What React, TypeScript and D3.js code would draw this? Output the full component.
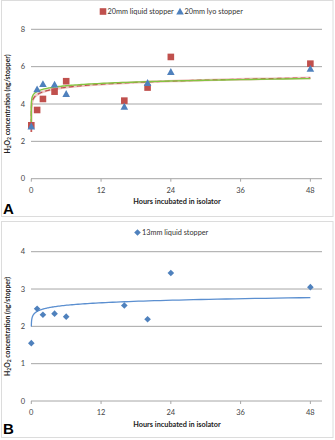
import React from "react";
import * as d3 from "d3";

const hours = [0, 1, 2, 4, 6, 16, 20, 24, 48];
const liquid20 = [2.86, 3.68, 4.27, 4.66, 5.22, 4.18, 4.88, 6.52, 6.16];
const lyo20 = [2.8, 4.79, 5.07, 5.04, 4.54, 3.86, 5.13, 5.72, 5.89];
const liquid13 = [1.55, 2.47, 2.31, 2.34, 2.26, 2.56, 2.19, 3.43, 3.05];

// power trendline coefficients [a, b, xStart]  y = a * x^b
const trendLiquid20 = [4.5, 0.047, 3.7e-6];
const trendLyo20 = [4.67, 0.0356, 1.5e-6];
const trendLiquid13 = [2.4, 0.037, 0.007];

const xTicks = [0, 12, 24, 36, 48];
const yTicksA = [0, 2, 4, 6, 8];
const yTicksB = [0, 1, 2, 3, 4];

const FONT = "Lato, 'Open Sans', sans-serif";
const RED = "#c0504d";
const BLUE = "#4f81bd";
const GREEN = "#84c441";

function trendPoints(coef: number[]) {
  const [a, b, x0] = coef;
  const t0 = Math.log10(x0);
  const t1 = Math.log10(48);
  const pts: [number, number][] = [];
  for (let t = t0; t < t1; t += 0.02) {
    const x = Math.pow(10, t);
    pts.push([x, a * Math.pow(x, b)]);
  }
  pts.push([48, a * Math.pow(48, b)]);
  return pts;
}

type Series = {
  values: number[];
  marker: "square" | "triangle" | "diamond";
  color: string;
  label: string;
};

function Marker({ kind, x, y, color }: { kind: string; x: number; y: number; color: string }) {
  if (kind === "square") {
    return <rect x={x - 3.3} y={y - 3.3} width={6.6} height={6.6} fill={color} />;
  }
  if (kind === "triangle") {
    const s = 3.8;
    return (
      <path
        d={`M${x},${y - s} L${x + s},${y + s * 0.8} L${x - s},${y + s * 0.8}Z`}
        fill={color}
      />
    );
  }
  const s = 3.3;
  return <path d={`M${x},${y - s} L${x + s},${y} L${x},${y + s} L${x - s},${y}Z`} fill={color} />;
}

function Panel({
  top,
  bottom,
  yDomainMax,
  yTicks,
  yRange,
  series,
  trends,
  legendX,
  letter,
  letterY,
  tickLabelY,
  titleY,
}: {
  top: number;
  bottom: number;
  yDomainMax: number;
  yTicks: number[];
  yRange: [number, number];
  series: Series[];
  trends: { coef: number[]; color: string; width: number; dash?: string; halo?: string }[];
  legendX: number[];
  letter: string;
  letterY: number;
  tickLabelY: number;
  titleY: number;
}) {
  const x = d3.scaleLinear().domain([0, 50]).range([31.3, 322]);
  const y = d3.scaleLinear().domain([0, yDomainMax]).range(yRange);
  const line = d3
    .line<[number, number]>()
    .x((d) => x(d[0]))
    .y((d) => y(d[1]));
  const legendY = top + 14;
  return (
    <g>
      <rect
        x={1.5}
        y={top + 0.5}
        width={331.5}
        height={bottom - top}
        fill="#fff"
        stroke="#dcdcdc"
        strokeWidth={1}
      />
      {yTicks.map((t) => (
        <line key={t} x1={31} x2={322} y1={y(t)} y2={y(t)} stroke="#a6a6a6" strokeWidth={1} />
      ))}
      {xTicks.map((t) => (
        <line key={t} x1={x(t)} x2={x(t)} y1={y(0)} y2={y(0) + 3} stroke="#a6a6a6" />
      ))}
      {yTicks.map((t) => (
        <text
          key={t}
          x={25}
          y={y(t) + 2.5}
          textAnchor="end"
          fontSize={7.5}
          fontFamily={FONT}
          fill="#444"
        >
          {t}
        </text>
      ))}
      {xTicks.map((t) => (
        <text
          key={t}
          x={x(t)}
          y={tickLabelY}
          textAnchor="middle"
          fontSize={7.5}
          fontFamily={FONT}
          fill="#444"
        >
          {t}
        </text>
      ))}
      <text
        x={177}
        y={titleY}
        textAnchor="middle"
        fontSize={7.3}
        fontWeight="bold"
        fontFamily={FONT}
        fill="#222"
      >
        Hours incubated in isolator
      </text>
      <text
        transform={`translate(9.5,${(y(0) + y(yDomainMax)) / 2}) rotate(-90)`}
        textAnchor="middle"
        fontSize={6.8}
        fontWeight="bold"
        fontFamily={FONT}
        fill="#222"
      >
        H
        <tspan fontSize={5} dy={1.5}>2</tspan>
        <tspan dy={-1.5}>O</tspan>
        <tspan fontSize={5} dy={1.5}>2</tspan>
        <tspan dy={-1.5}> concentration (ng/stopper)</tspan>
      </text>
      <text x={3} y={letterY} fontSize={15} fontWeight="bold" fontFamily="'Liberation Sans', Arial, sans-serif" fill="#000">
        {letter}
      </text>
      {trends.map((tr, i) => (
        <g key={i}>
          {tr.halo && (
            <path d={line(trendPoints(tr.coef)) || ""} fill="none" stroke={tr.halo} strokeWidth={2.6} />
          )}
          <path
            d={line(trendPoints(tr.coef)) || ""}
            fill="none"
            stroke={tr.color}
            strokeWidth={tr.width}
            strokeDasharray={tr.dash}
          />
        </g>
      ))}
      {series.map((s, si) => (
        <g key={si}>
          {s.values.map((v, i) => (
            <Marker key={i} kind={s.marker} x={x(hours[i])} y={y(v)} color={s.color} />
          ))}
        </g>
      ))}
      {series.map((s, si) => (
        <g key={"l" + si}>
          <Marker kind={s.marker} x={legendX[si]} y={legendY - 2.5} color={s.color} />
          <text x={legendX[si] + 4.5} y={legendY} fontSize={7.3} fontFamily={FONT} fill="#333">
            {s.label}
          </text>
        </g>
      ))}
    </g>
  );
}

export default function App() {
  return (
    <svg
      width={335}
      height={440}
      style={{ position: "absolute", left: 0, top: 0, background: "#fff" }}
    >
      <Panel
        top={0}
        bottom={216}
        yDomainMax={8}
        yTicks={yTicksA}
        yRange={[178.7, 29.3]}
        series={[
          { values: liquid20, marker: "square", color: RED, label: "20mm liquid stopper" },
          { values: lyo20, marker: "triangle", color: BLUE, label: "20mm lyo stopper" },
        ]}
        trends={[
          { coef: trendLiquid20, color: RED, width: 1.2, dash: "5,3", halo: "#f0c8c6" },
          { coef: trendLyo20, color: GREEN, width: 1.4 },
        ]}
        legendX={[103, 180]}
        letter="A"
        letterY={214}
        tickLabelY={193}
        titleY={204}
      />
      <Panel
        top={221}
        bottom={437}
        yDomainMax={4}
        yTicks={yTicksB}
        yRange={[401, 251.7]}
        series={[{ values: liquid13, marker: "diamond", color: BLUE, label: "13mm liquid stopper" }]}
        trends={[{ coef: trendLiquid13, color: "#5b8fd0", width: 1.3 }]}
        legendX={[137.5]}
        letter="B"
        letterY={434}
        tickLabelY={415}
        titleY={427}
      />
    </svg>
  );
}
